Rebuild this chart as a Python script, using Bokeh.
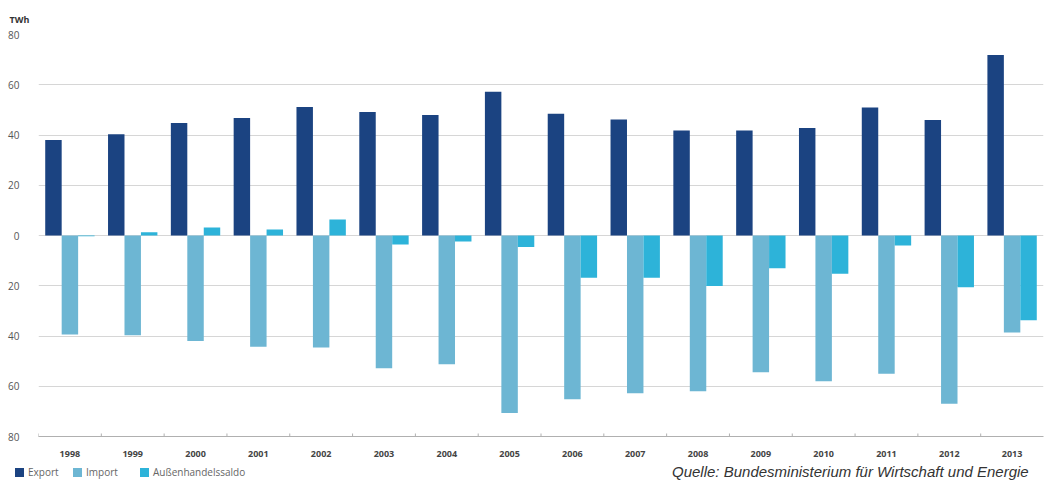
from bokeh.plotting import figure
from bokeh.layouts import column
from bokeh.models import ColumnDataSource, FixedTicker, Div
from bokeh.transform import dodge
from bokeh.embed import file_html
from bokeh.resources import INLINE

years = ["1998", "1999", "2000", "2001", "2002", "2003", "2004", "2005",
         "2006", "2007", "2008", "2009", "2010", "2011", "2012", "2013"]
export = [38.0, 40.3, 44.8, 46.8, 51.1, 49.2, 48.0, 57.2,
          48.5, 46.2, 41.8, 41.8, 42.8, 50.9, 46.0, 71.8]
imports = [39.4, 39.7, 42.0, 44.3, 44.6, 52.8, 51.2, 70.6,
           65.2, 62.8, 62.0, 54.4, 58.0, 55.0, 67.0, 38.6]
saldo = [-0.3, 1.3, 3.2, 2.4, 6.4, -3.6, -2.4, -4.6,
         -16.8, -16.8, -20.1, -13.0, -15.2, -4.0, -20.6, -33.7]
series_names = ["Export", "Import", "Außenhandelssaldo"]
ytick_values = [-80, -60, -40, -20, 0, 20, 40, 60, 80]
ytick_labels = ["80", "60", "40", "20", "0", "20", "40", "60", "80"]
source_text = "Quelle: Bundesministerium für Wirtschaft und Energie"

C_EXPORT = "#1b4381"
C_IMPORT = "#6db6d3"
C_SALDO = "#2db3d9"
colors = [C_EXPORT, C_IMPORT, C_SALDO]

W = 1045

src = ColumnDataSource(dict(year=years, export=export,
                            imp=[-v for v in imports], saldo=saldo,
                            tick=[-81.8] * len(years),
                            tick2=[-78.8] * len(years)))

p = figure(x_range=years, y_range=(-80, 80), width=W, height=460,
           output_backend="svg", toolbar_location=None, title="TWh",
           min_border_left=38, min_border_right=2, min_border_top=34,
           min_border_bottom=24, background_fill_color="white",
           border_fill_color="white")
p.outline_line_color = None
p.title.align = "left"
p.title.offset = -29
p.title.standoff = 18
p.title.text_font = "Open Sans"
p.title.text_font_style = "bold"
p.title.text_font_size = "9px"
p.title.text_color = "#333333"

bw = 0.262
p.vbar(x=dodge("year", -bw, range=p.x_range), top="export", bottom=0,
       width=bw, source=src, fill_color=C_EXPORT, line_color=None,
       legend_label=series_names[0])
p.vbar(x=dodge("year", 0.0, range=p.x_range), top="imp", bottom=0,
       width=bw, source=src, fill_color=C_IMPORT, line_color=None,
       legend_label=series_names[1])
p.vbar(x=dodge("year", bw, range=p.x_range), top="saldo", bottom=0,
       width=bw, source=src, fill_color=C_SALDO, line_color=None,
       legend_label=series_names[2])
# the drawn legend lives in the footer below; keep the plot's own legend hidden
p.legend.visible = False

# boundary ticks on category axis
p.segment(x0=dodge("year", -0.5, range=p.x_range), x1=dodge("year", -0.5, range=p.x_range),
          y0="tick2", y1="tick", source=src, line_color="#b0b0b0", line_width=1)

# y axis
p.yaxis.ticker = FixedTicker(ticks=ytick_values)
p.yaxis.major_label_overrides = {v: l for v, l in zip(ytick_values, ytick_labels)}
p.yaxis.axis_line_color = None
p.yaxis.major_tick_line_color = None
p.yaxis.minor_tick_line_color = None
p.yaxis.major_label_standoff = 13
p.yaxis.major_label_text_font = "Open Sans"
p.yaxis.major_label_text_font_size = "10px"
p.yaxis.major_label_text_color = "#555555"

p.ygrid.ticker = FixedTicker(ticks=ytick_values)
p.ygrid.grid_line_color = "#d6d6d6"
p.ygrid.grid_line_width = 1
p.xgrid.grid_line_color = None

# x axis
p.xaxis.axis_line_color = "#b0b0b0"
p.xaxis.major_tick_line_color = None
p.xaxis.minor_tick_line_color = None
p.xaxis.major_label_standoff = 8
p.xaxis.major_label_text_font = "Open Sans"
p.xaxis.major_label_text_font_style = "bold"
p.xaxis.major_label_text_font_size = "9px"
p.xaxis.major_label_text_color = "#444444"

# footer: legend + source
legend_x = [15, 73, 140]
items_html = ""
for name, col, lx in zip(series_names, colors, legend_x):
    items_html += (
        f'<div style="position:absolute;left:{lx}px;top:7px;display:flex;'
        f'align-items:center;white-space:nowrap;">'
        f'<span style="display:inline-block;width:9px;height:9px;background:{col};'
        f'margin-right:4px;"></span>'
        f'<span style="font-family:\'Open Sans\';font-size:10px;color:#666666;'
        f'line-height:10px;">{name}</span></div>'
    )
footer_html = (
    f'<div style="position:relative;width:{W}px;height:23px;margin:0;padding:0;">'
    + items_html
    + f'<div style="position:absolute;left:672px;top:3px;white-space:nowrap;'
      f'font-family:\'Liberation Sans\';font-style:italic;font-size:15px;'
      f'color:#333333;line-height:17px;">{source_text}</div>'
    + '</div>'
)
footer = Div(text=footer_html, width=W, height=23, margin=0)

layout = column(p, footer, spacing=0)
open("out.html", "w").write(file_html(layout, INLINE))
